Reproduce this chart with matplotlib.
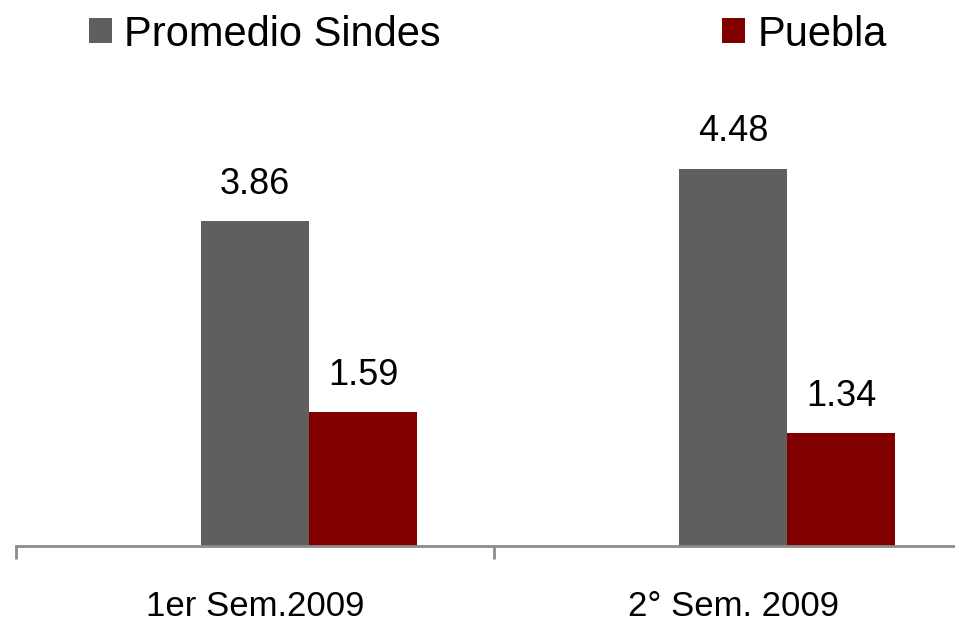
import matplotlib.pyplot as plt
import numpy as np

categories = ["1er Sem.2009", "2° Sem. 2009"]
series = ["Promedio Sindes", "Puebla"]
sindes = [3.86, 4.48]
puebla = [1.59, 1.34]
colors = ["#5F5F5F", "#800000"]

plt.rcParams["font.family"] = ["Liberation Sans", "DejaVu Sans"]

W, H = 955, 624
fig = plt.figure(figsize=(W / 100, H / 100), dpi=100)
# axes in pixel terms: left 16, right ~972 (runs off the image), bottom 546
left, right, bottom, top = 16, 972, 546, 125
ax = fig.add_axes([left / W, 1 - bottom / H, (right - left) / W, (bottom - top) / H])

x = np.arange(len(categories))
w = 0.226
b1 = ax.bar(x, sindes, w, color=colors[0], label=series[0])
b2 = ax.bar(x + w, puebla, w, color=colors[1], label=series[1])

for bars, vals in ((b1, sindes), (b2, puebla)):
    for r, v in zip(bars, vals):
        ax.text(r.get_x() + r.get_width() / 2, v + 0.23, f"{v:.2f}",
                ha="center", va="bottom", fontsize=26, clip_on=False)

ax.set_xlim(-0.5, 1.5)
ax.set_ylim(0, 5)
for s in ("top", "right", "left"):
    ax.spines[s].set_visible(False)
ax.spines["bottom"].set_color("#8C8C8C")
ax.spines["bottom"].set_linewidth(2)
ax.set_yticks([])
ax.set_xticks([-0.5, 0.5, 1.5])
ax.set_xticklabels([])
ax.set_xticks(x, minor=True)
ax.set_xticklabels(categories, minor=True, fontsize=25)
ax.tick_params(axis="x", which="major", length=9, width=2, color="#8C8C8C")
ax.tick_params(axis="x", which="minor", length=0, pad=32)

fig.legend(handles=[b1, b2], labels=series, loc="upper left",
           bbox_to_anchor=(68 / W, 1.01), ncol=2, frameon=False,
           fontsize=30, handlelength=0.55, handleheight=0.55,
           handletextpad=0.3, columnspacing=6.75, borderaxespad=0.1)

fig.savefig("out.png", dpi=100)
